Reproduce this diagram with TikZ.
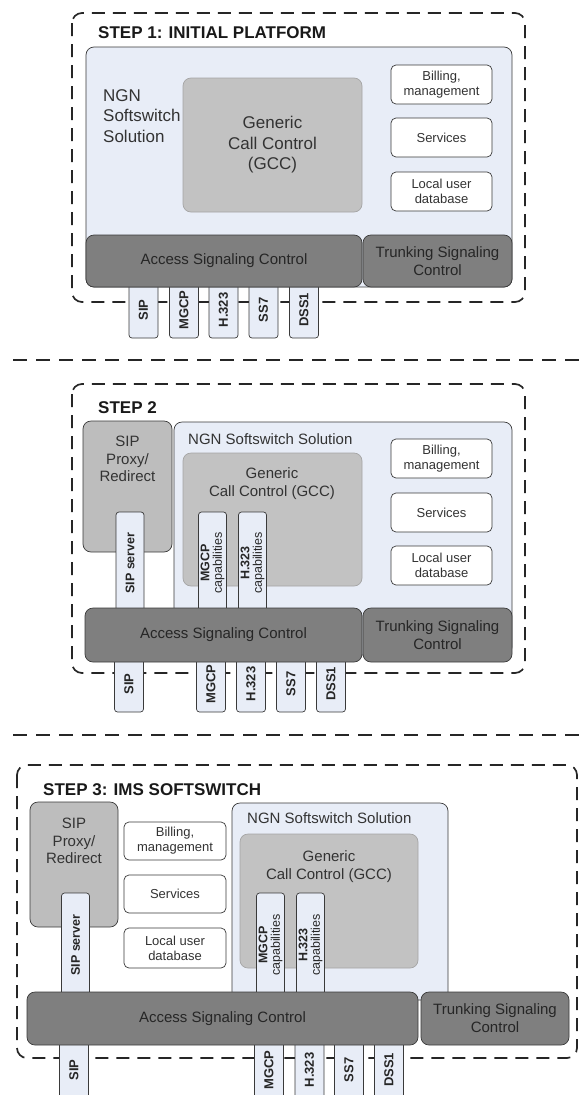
\documentclass[tikz,border=0pt]{standalone}
\usepackage{fontspec}
\setmainfont{Liberation Sans}
\definecolor{ngnblue}{HTML}{E8EDF7}
\definecolor{gccgray}{HTML}{C2C2C2}
\definecolor{proxygray}{HTML}{BDBDBD}
\definecolor{siggray}{HTML}{7F7F7F}
\definecolor{edge}{HTML}{3A3A3A}

\begin{document}
\begin{tikzpicture}[x=1pt, y=-1pt,
    stepframe/.style={draw=black!85, line width=1.7pt, dash pattern=on 13pt off 8pt, rounded corners=10pt},
    separator/.style={draw=black!85, line width=1.7pt, dash pattern=on 14pt off 9pt},
    box/.style={draw=edge, line width=0.7pt, inner sep=0pt, outer sep=0pt, anchor=north west, align=center, text=black!80},
    ngn/.style={box, fill=ngnblue, rounded corners=8pt},
    gcc/.style={box, fill=gccgray, draw=gccgray!85!black, rounded corners=8pt},
    proxy/.style={box, fill=proxygray, rounded corners=8pt},
    whitebox/.style={box, fill=white, rounded corners=5pt, small},
    sig/.style={box, fill=siggray, rounded corners=8pt, mid, text=black!85},
    proto/.style={draw=edge, line width=0.7pt, fill=ngnblue, rounded corners=3pt, rotate=90, inner sep=0pt, minimum height=29,
      font=\bfseries\fontsize{13}{15}\selectfont, text=black!85},
    capbox/.style={draw=edge, line width=0.7pt, fill=ngnblue, rounded corners=3pt, rotate=90, inner sep=0pt, minimum width=102,
      minimum height=28, align=center, font=\fontsize{12.5}{12.5}\selectfont, text=black!85},
    title/.style={font=\bfseries\fontsize{17}{20}\selectfont, inner sep=0pt, anchor=west, text=black!90},
    big/.style={font=\fontsize{17}{20.5}\selectfont},
    mid/.style={font=\fontsize{15}{17.8}\selectfont},
    small/.style={font=\fontsize{13}{15}\selectfont}]
  \useasboundingbox (0,0) rectangle (581,1095);
  \clip (0,0) rectangle (581,1095);

  % step 1
  \draw[stepframe] (72,13) rectangle (525,302);
  \node[title] (title1) at (98,33) {STEP 1: INITIAL PLATFORM};
  \node[proto, minimum width=56] (sip1) at (143.5,310) {SIP};
  \node[proto, minimum width=56] (mgcp1) at (184,310) {MGCP};
  \node[proto, minimum width=56] (hdrei1) at (223.5,310) {H.323};
  \node[proto, minimum width=56] (ss71) at (263.5,310) {SS7};
  \node[proto, minimum width=56] (dss1a) at (304,310) {DSS1};
  \node[ngn, minimum width=426, minimum height=240] (ngn1) at (86,47) {};
  \node[big, align=left, inner sep=0pt, anchor=west, text=black!80] (ngntxt1) at (103,116) {NGN\\Softswitch\\Solution};
  \node[gcc, big, minimum width=179, minimum height=134] (gcc1) at (183,78) {Generic\\Call Control\\(GCC)};
  \node[whitebox, minimum width=101, minimum height=39] (bill1) at (391,65) {Billing,\\management};
  \node[whitebox, minimum width=101, minimum height=39] (serv1) at (391,118) {Services};
  \node[whitebox, minimum width=101, minimum height=39] (local1) at (391,172) {Local user\\database};
  \node[sig, minimum width=276, minimum height=52] (acc1) at (86,235) {Access Signaling Control};
  \node[sig, minimum width=149, minimum height=52] (trunk1) at (363,235) {Trunking Signaling\\Control};

  \draw[separator] (13,360) -- (581,360);

  % step 2
  \draw[stepframe] (72,384) rectangle (525,673);
  \node[title] (title2) at (98,408) {STEP 2};
  \node[proto, minimum width=56] (sip2) at (129,684) {SIP};
  \node[proto, minimum width=56] (mgcp2) at (211,684) {MGCP};
  \node[proto, minimum width=56] (hdrei2) at (251,684) {H.323};
  \node[proto, minimum width=56] (ss72) at (291,684) {SS7};
  \node[proto, minimum width=56] (dss1b) at (331,684) {DSS1};
  \node[proxy, minimum width=89, minimum height=131] (proxy2) at (83,421) {};
  \node[mid, align=center, text=black!80] (proxytxt2) at (127.5,459) {SIP\\Proxy/\\Redirect};
  \node[ngn, minimum width=338, minimum height=233] (ngn2) at (174,422) {};
  \node[mid, inner sep=0pt, anchor=west, text=black!80] (ngntxt2) at (188,439) {NGN Softswitch Solution};
  \node[gcc, minimum width=179, minimum height=133] (gcc2) at (183,453) {};
  \node[mid, align=center, text=black!80] (gcctxt2) at (272,484) {Generic\\Call Control (GCC)};
  \node[whitebox, minimum width=101, minimum height=39] (bill2) at (391,439) {Billing,\\management};
  \node[whitebox, minimum width=101, minimum height=39] (serv2) at (391,493) {Services};
  \node[whitebox, minimum width=101, minimum height=39] (local2) at (391,546) {Local user\\database};
  \node[capbox] (sipsrv2) at (130,563) {\textbf{SIP server}};
  \node[capbox] (mgcpcap2) at (212.5,563) {\textbf{MGCP}\\capabilities};
  \node[capbox] (hdreicap2) at (252.5,563) {\textbf{H.323}\\capabilities};
  \node[sig, minimum width=277, minimum height=54] (acc2) at (85,608) {Access Signaling Control};
  \node[sig, minimum width=149, minimum height=54] (trunk2) at (363,608) {Trunking Signaling\\Control};

  \draw[separator] (13,735) -- (581,735);

  % step 3
  \draw[stepframe] (17,765) rectangle (577,1058);
  \node[title] (title3) at (43,790) {STEP 3: IMS SOFTSWITCH};
  \node[proto, minimum width=60] (sip3) at (74,1070) {SIP};
  \node[proto, minimum width=60] (mgcp3) at (269,1070) {MGCP};
  \node[proto, minimum width=60] (hdrei3) at (309.5,1070) {H.323};
  \node[proto, minimum width=60] (ss73) at (349,1070) {SS7};
  \node[proto, minimum width=60] (dss1c) at (389,1070) {DSS1};
  \node[proxy, minimum width=88, minimum height=125] (proxy3) at (30,802) {};
  \node[mid, align=center, text=black!80] (proxytxt3) at (74,841) {SIP\\Proxy/\\Redirect};
  \node[whitebox, minimum width=102, minimum height=38] (bill3) at (124,822) {Billing,\\management};
  \node[whitebox, minimum width=102, minimum height=38] (serv3) at (124,875) {Services};
  \node[whitebox, minimum width=102, minimum height=40] (local3) at (124,928) {Local user\\database};
  \node[ngn, minimum width=216, minimum height=197] (ngn3) at (232,803) {};
  \node[mid, inner sep=0pt, anchor=west, text=black!80] (ngntxt3) at (247,818) {NGN Softswitch Solution};
  \node[gcc, minimum width=178, minimum height=134] (gcc3) at (240,834) {};
  \node[mid, align=center, text=black!80] (gcctxt3) at (329,867) {Generic\\Call Control (GCC)};
  \node[capbox, minimum width=104] (sipsrv3) at (75.5,945) {\textbf{SIP server}};
  \node[capbox, minimum width=104] (mgcpcap3) at (270.5,945) {\textbf{MGCP}\\capabilities};
  \node[capbox, minimum width=104] (hdreicap3) at (310.5,945) {\textbf{H.323}\\capabilities};
  \node[sig, minimum width=391, minimum height=53] (acc3) at (27,992) {Access Signaling Control};
  \node[sig, minimum width=148, minimum height=53] (trunk3) at (421,992) {Trunking Signaling\\Control};
\end{tikzpicture}
\end{document}
